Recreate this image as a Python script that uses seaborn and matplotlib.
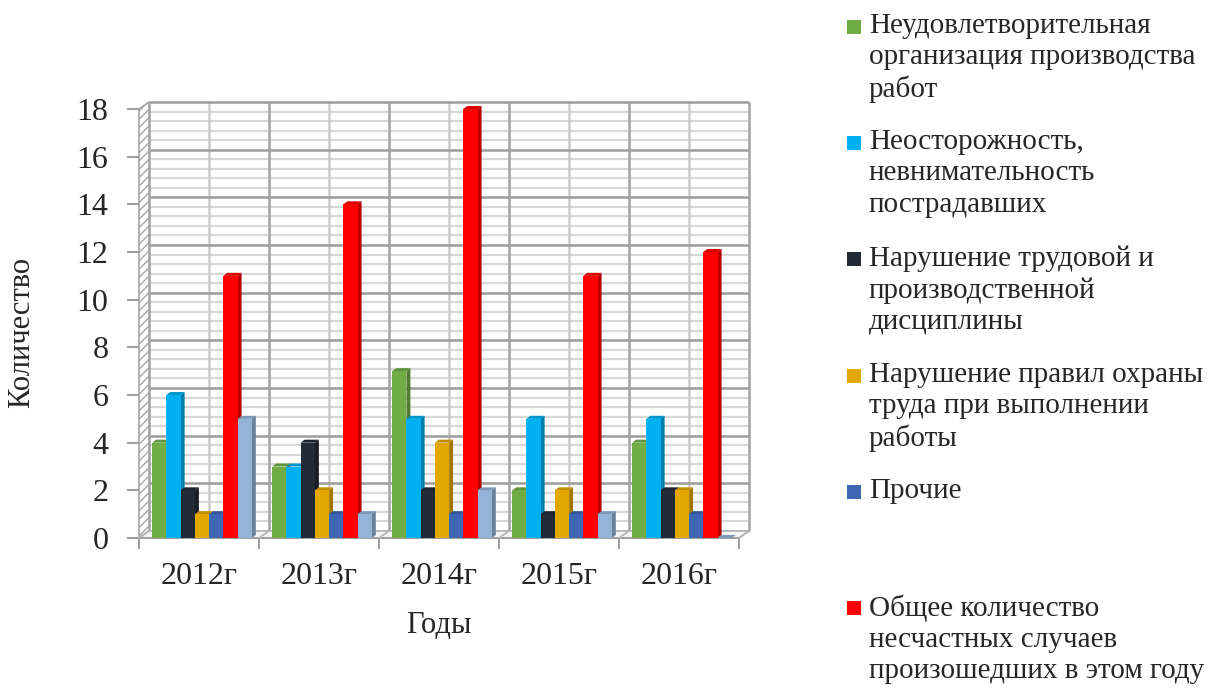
import numpy as np
import pandas as pd
import seaborn as sns
import matplotlib.pyplot as plt
from matplotlib.colors import to_rgb
from matplotlib.patches import Polygon, Rectangle

years = ["2012г", "2013г", "2014г", "2015г", "2016г"]

unsatisfactory_org = [4, 3, 7, 2, 4]
carelessness = [6, 3, 5, 5, 5]
discipline = [2, 4, 2, 1, 2]
safety_rules = [1, 2, 4, 2, 2]
other = [1, 1, 1, 1, 1]
total = [11, 14, 18, 11, 12]
unnamed = [5, 1, 2, 1, 0]

series_names = [
    "Неудовлетворительная\nорганизация производства\nработ",
    "Неосторожность,\nневнимательность\nпострадавших",
    "Нарушение трудовой и\nпроизводственной\nдисциплины",
    "Нарушение правил охраны\nтруда при выполнении\nработы",
    "Прочие",
    "Общее количество\nнесчастных случаев\nпроизошедших в этом году",
    "Ряд 7",
]
colors = ["#70AD47", "#00B0F0", "#222A35", "#E2A700", "#3F66B2", "#FF0000", "#95B3D7"]
# the 7th series has no entry in the original legend
legend_count = 6

series = [unsatisfactory_org, carelessness, discipline, safety_rules, other, total, unnamed]
rows = []
for name, vals in zip(series_names, series):
    for yr, v in zip(years, vals):
        rows.append({"Год": yr, "Количество": v, "Причина": name})
df = pd.DataFrame(rows)

sns.set_style("white")
plt.rcParams["font.family"] = ["Liberation Serif", "DejaVu Serif"]

W, H = 1211, 691
fig = plt.figure(figsize=(W / 100, H / 100), dpi=100)
ax = fig.add_axes([139 / W, 153 / H, 600 / W, 429 / H])

sns.barplot(data=df, x="Год", y="Количество", hue="Причина", hue_order=series_names,
            palette=colors, width=0.83, saturation=1, legend=False, linewidth=0,
            zorder=5, ax=ax)
bars = list(ax.patches)

ax.set_xlim(-0.5, 4.5)
ax.set_ylim(0, 18)

# pixel -> data conversion for the fake 3d depth
p = ax.transData.transform([(0, 0), (1, 1)])
ppx, ppy = p[1] - p[0]
wall_dx, wall_dy = 10 / ppx, 7 / ppy
bar_dx, bar_dy = 4 / ppx, 3 / ppy

# shift the clusters a little towards the back, like the original
for bar in bars:
    bar.set_x(bar.get_x() + 3 / ppx)

# back wall grid
minor = [v for v in np.arange(0, 18.01, 0.4) if abs(v / 2 - round(v / 2)) > 1e-6]
ax.hlines(np.array(minor) + wall_dy, -0.5 + wall_dx, 4.5 + wall_dx, color="#d8d8d8",
          lw=1.6, zorder=1, clip_on=False)
ax.vlines(np.arange(0, 5) + wall_dx, wall_dy, 18 + wall_dy, color="#cccccc",
          lw=1.8, zorder=1.5, clip_on=False)
ax.hlines(np.arange(0, 19, 2) + wall_dy, -0.5 + wall_dx, 4.5 + wall_dx, color="#9c9c9c",
          lw=1.8, zorder=2, clip_on=False)
ax.vlines(np.arange(-0.5, 4.6, 1) + wall_dx, wall_dy, 18 + wall_dy, color="#a3a3a3",
          lw=1.8, zorder=2, clip_on=False)

# side wall and floor
ax.add_patch(Polygon([(-0.5, 0), (-0.5 + wall_dx, wall_dy), (-0.5 + wall_dx, 18 + wall_dy),
                      (-0.5, 18)], closed=True, facecolor="white", edgecolor="#a6a6a6",
                     hatch="////", lw=1.2, zorder=2.5, clip_on=False))
ax.add_patch(Polygon([(-0.5, 0), (4.5, 0), (4.5 + wall_dx, wall_dy), (-0.5 + wall_dx, wall_dy)],
                     closed=True, facecolor="#f3f3f3", edgecolor="#b5b5b5", lw=1.2,
                     zorder=2.5, clip_on=False))
for b in np.arange(-0.5, 4.6, 1):
    ax.plot([b, b + wall_dx], [0, wall_dy], color="#b5b5b5", lw=1.2, zorder=2.6, clip_on=False)

# side and top faces of the bars
for bar in bars:
    x0, w, h = bar.get_x(), bar.get_width(), bar.get_height()
    c = np.array(to_rgb(bar.get_facecolor()))
    ax.add_patch(Polygon([(x0 + w, 0), (x0 + w + bar_dx, bar_dy), (x0 + w + bar_dx, h + bar_dy),
                          (x0 + w, h)], closed=True, facecolor=c * 0.72, lw=0, zorder=4,
                         clip_on=False))
    ax.add_patch(Polygon([(x0, h), (x0 + bar_dx, h + bar_dy), (x0 + w + bar_dx, h + bar_dy),
                          (x0 + w, h)], closed=True, facecolor=c * 0.85, lw=0, zorder=4,
                         clip_on=False))

for s in ["top", "right", "left"]:
    ax.spines[s].set_visible(False)
ax.spines["bottom"].set_color("#9a9a9a")
ax.spines["bottom"].set_linewidth(1.2)

ax.set_yticks(range(0, 19, 2))
ax.tick_params(axis="y", left=True, length=9, width=1.2, color="#8c8c8c", pad=13,
               labelsize=23, direction="out")
ax.set_xticks(range(5), years)
ax.tick_params(axis="x", which="major", length=0, pad=17, labelsize=23)
ax.set_xticks(np.arange(-0.5, 4.6, 1), minor=True)
ax.tick_params(axis="x", which="minor", bottom=True, length=8, width=1.2, color="#8c8c8c")

ax.set_ylabel("Количество", fontsize=22)
ax.yaxis.set_label_coords(-0.172, 0.48)
ax.set_xlabel("Годы", fontsize=22)
ax.xaxis.set_label_coords(0.5, -0.171)

# legend drawn by hand: equal slots, first line aligned to the marker
for i in range(legend_count):
    yc = 27 + 116.2 * i
    fig.add_artist(Rectangle((847 / W, 1 - (yc + 7) / H), 14 / W, 14 / H,
                             transform=fig.transFigure, facecolor=colors[i], lw=0))
    fig.text(869 / W, 1 - (yc - 14) / H, series_names[i], fontsize=21, va="top",
             ha="left", linespacing=1.26)

fig.savefig("out.png", dpi=100)
